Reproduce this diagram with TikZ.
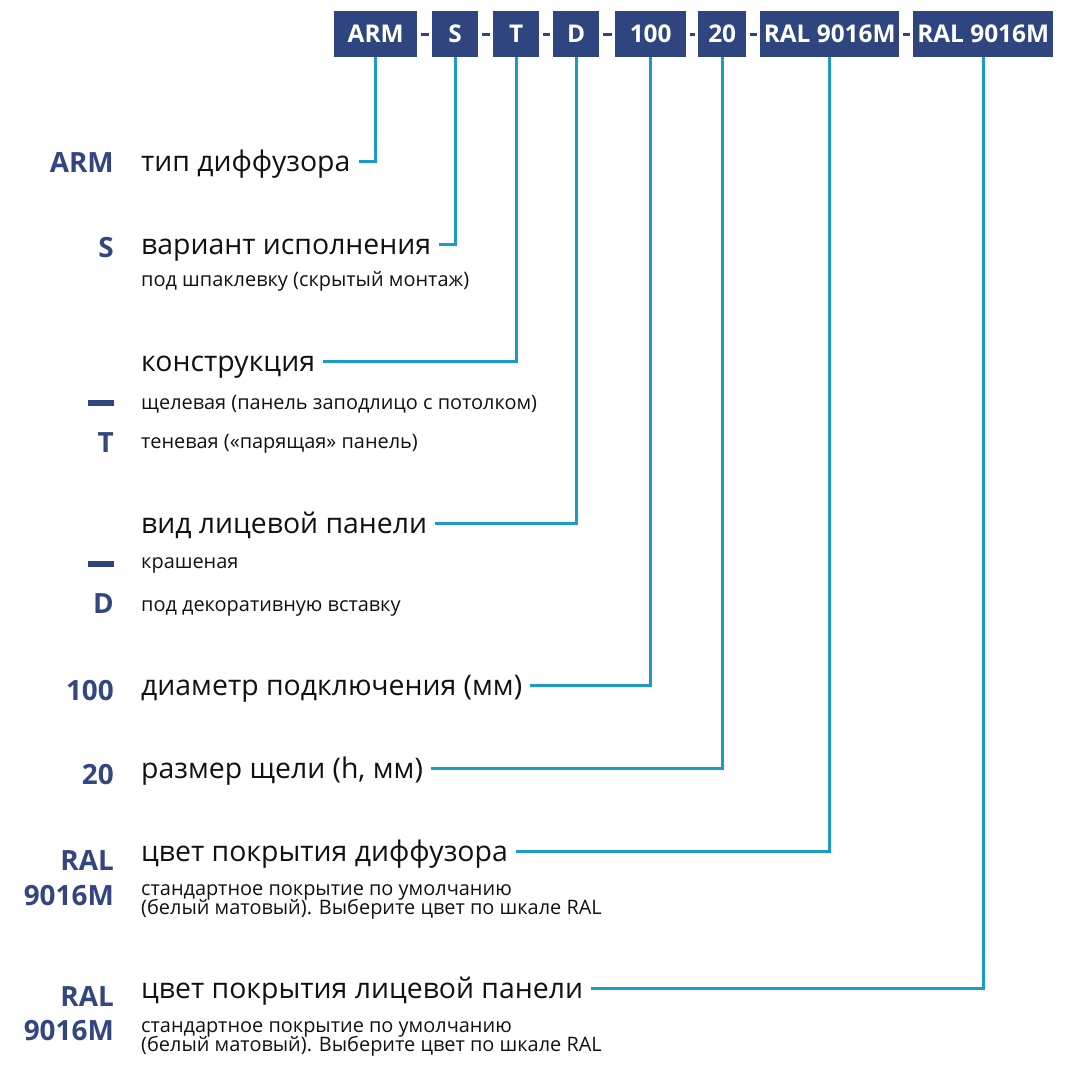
\documentclass[tikz,border=0pt]{standalone}
\usepackage{fontspec}
\setmainfont{Open Sans}
\definecolor{navy}{HTML}{2F4580}
\definecolor{lblue}{HTML}{33467F}
\definecolor{cyanl}{HTML}{1A9BC9}
\definecolor{txt}{HTML}{111111}
\begin{document}
\begin{tikzpicture}[x=1bp,y=-1bp,
  codebox/.style={fill=navy,text=white,font=\fontsize{24.5}{24.5}\selectfont\bfseries,inner sep=0pt,minimum height=46bp,anchor=north west},
  sep/.style={draw=navy,line width=3bp,shorten <=3.5bp,shorten >=3.5bp},
  conn/.style={draw=cyanl,line width=3bp},
  maintxt/.style={anchor=base west,inner sep=0pt,text=txt,font=\fontsize{28.5}{28.5}\selectfont},
  subtxt/.style={anchor=base west,inner sep=0pt,text=txt,font=\fontsize{20}{20}\selectfont},
  lbl/.style={anchor=base east,inner sep=0pt,text=lblue,font=\fontsize{28}{28}\selectfont\bfseries},
  dashmark/.style={fill=navy,inner sep=0pt,minimum width=26bp,minimum height=6bp,anchor=center}]
\useasboundingbox (0,0) rectangle (1070,1081);
% code boxes
\node[codebox,minimum width=83bp] (b1) at (334,11) {ARM};
\node[codebox,minimum width=46bp] (b2) at (432,11) {S};
\node[codebox,minimum width=46bp] (b3) at (493,11) {T};
\node[codebox,minimum width=46bp] (b4) at (553,11) {D};
\node[codebox,minimum width=71bp] (b5) at (615,11) {100};
\node[codebox,minimum width=48bp] (b6) at (698,11) {20};
\node[codebox,minimum width=139bp] (b7) at (760,11) {RAL 9016M};
\node[codebox,minimum width=140bp] (b8) at (913,11) {RAL 9016M};
\foreach \a/\b in {b1/b2,b2/b3,b3/b4,b4/b5,b5/b6,b6/b7,b7/b8}
  \draw[sep] (\a.east) -- (\b.west);
% labels
\node[lbl] (l1) at (114,172) {ARM};
\node[lbl] (l2) at (114,257) {S};
\node[dashmark] (d3) at (101,403) {};
\node[lbl] (l3) at (114,452) {T};
\node[dashmark] (d4) at (101,564) {};
\node[lbl] (l4) at (114,613) {D};
\node[lbl] (l5) at (114,700) {100};
\node[lbl] (l6) at (114,784) {20};
\node[lbl] (l7a) at (114,870) {RAL};
\node[lbl] (l7b) at (114,905) {9016M};
\node[lbl] (l8a) at (114,1006) {RAL};
\node[lbl] (l8b) at (114,1040) {9016M};
% texts
\node[maintxt] (t1) at (141,171) {тип диффузора};
\node[maintxt] (t2) at (141,254) {вариант исполнения};
\node[subtxt] (s2) at (141,286) {под шпаклевку (скрытый монтаж)};
\node[maintxt] (t3) at (141,371) {конструкция};
\node[subtxt] (s3a) at (141,409) {щелевая (панель заподлицо с потолком)};
\node[subtxt] (s3b) at (141,448) {теневая («парящая» панель)};
\node[maintxt] (t4) at (141,533) {вид лицевой панели};
\node[subtxt] (s4a) at (141,568) {крашеная};
\node[subtxt] (s4b) at (141,611) {под декоративную вставку};
\node[maintxt] (t5) at (141,695) {диаметр подключения (мм)};
\node[maintxt] (t6) at (141,778) {размер щели (h, мм)};
\node[maintxt] (t7) at (141,861) {цвет покрытия диффузора};
\node[subtxt] (s7a) at (141,895) {стандартное покрытие по умолчанию};
\node[subtxt] (s7b) at (141,914) {(белый матовый). Выберите цвет по шкале RAL};
\node[maintxt] (t8) at (141,998) {цвет покрытия лицевой панели};
\node[subtxt] (s8a) at (141,1032) {стандартное покрытие по умолчанию};
\node[subtxt] (s8b) at (141,1051) {(белый матовый). Выберите цвет по шкале RAL};
% connectors
\foreach \t/\b in {t1/b1,t2/b2,t3/b3,t4/b4,t5/b5,t6/b6,t7/b7,t8/b8}
  \draw[conn] ([xshift=8bp,yshift=10bp]\t.base east) -| (\b.south);
\end{tikzpicture}
\end{document}
